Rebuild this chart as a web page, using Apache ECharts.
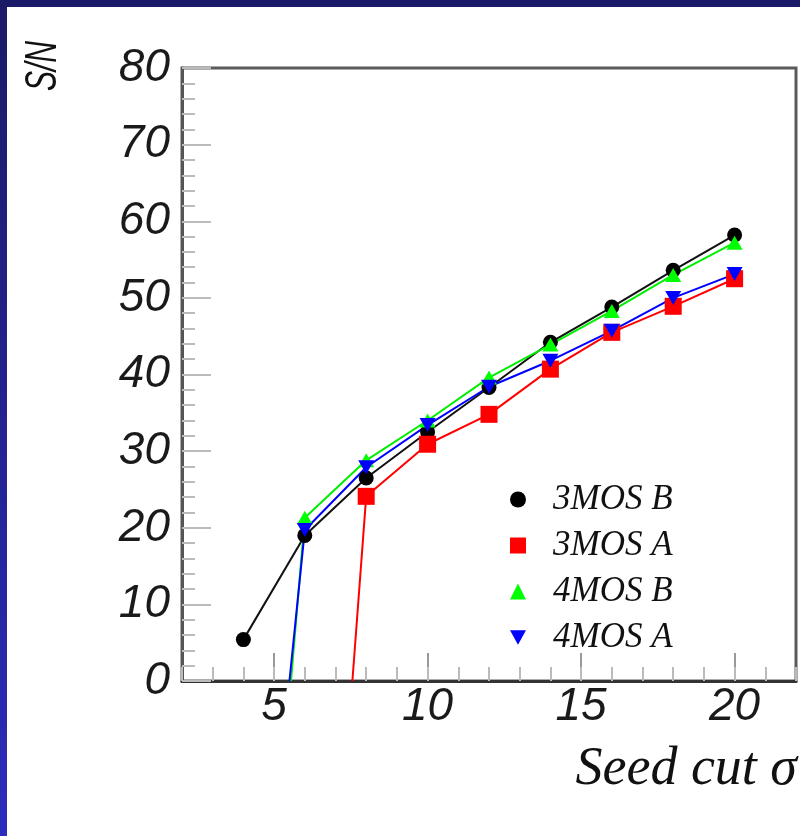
<!DOCTYPE html>
<html>
<head>
<meta charset="utf-8">
<script src="https://cdn.jsdelivr.net/npm/echarts@6/dist/echarts.min.js"></script>
<style>
  html, body { margin: 0; padding: 0; background: #ffffff; }
  #chart { width: 800px; height: 836px; }
</style>
</head>
<body>
<div id="chart"></div>
<script>
// ---- data ----
const seriesNames = ['3MOS B', '3MOS A', '4MOS B', '4MOS A'];
const x3B = [4, 6, 8, 10, 12, 14, 16, 18, 20];
const y3B = [5.4, 19.0, 26.5, 32.5, 38.3, 44.2, 48.8, 53.6, 58.2];
const x3A = [7.55, 8, 10, 12, 14, 16, 18, 20];
const y3A = [0, 24.1, 30.9, 34.8, 40.7, 45.5, 48.9, 52.5];
const x4B = [5.55, 6, 8, 10, 12, 14, 16, 18, 20];
const y4B = [0, 21.3, 28.8, 34.0, 39.6, 43.9, 48.3, 53.0, 57.2];
const x4A = [5.5, 6, 8, 10, 12, 14, 16, 18, 20];
const y4A = [0, 19.7, 27.9, 33.4, 38.4, 41.8, 45.7, 50.0, 53.1];
const xTickLabels = [5, 10, 15, 20];
const yTickLabels = [0, 10, 20, 30, 40, 50, 60, 70, 80];

function pts(xs, ys) {
  return xs.map((x, i) => ys[i] === 0 ? { value: [x, ys[i]], symbol: 'none' } : [x, ys[i]]);
}

const downTri = 'path://M0,0L10,0L5,9Z';
const chart = echarts.init(document.getElementById('chart'));
const italicSans = 'Liberation Sans';
const italicSerif = 'Liberation Serif';

chart.setOption({
  animation: false,
  backgroundColor: '#ffffff',
  grid: {
    left: 182, top: 68, right: 4, bottom: 155,
    show: true, borderColor: '#5a5a5a', borderWidth: 3, backgroundColor: 'transparent'
  },
  xAxis: [
    {
      type: 'value', min: 2, max: 22,
      axisLine: { lineStyle: { color: '#333', width: 3 } },
      splitLine: { show: false },
      axisTick: { inside: true, length: 28, customValues: xTickLabels, lineStyle: { color: '#999', width: 2 } },
      axisLabel: {
        customValues: xTickLabels, margin: 3, color: '#1a1a1a',
        fontFamily: italicSans, fontStyle: 'italic', fontSize: 46, lineHeight: 46
      },
      name: 'Seed cut σ', nameLocation: 'end', nameGap: 1,
      nameTextStyle: {
        fontFamily: italicSerif, fontStyle: 'italic', fontSize: 54, color: '#111',
        align: 'right', verticalAlign: 'top', padding: [62, 0, 0, 0]
      }
    },
    {
      type: 'value', min: 2, max: 22, interval: 1, position: 'bottom',
      axisLine: { show: false },
      splitLine: { show: false },
      axisTick: { inside: true, length: 14, lineStyle: { color: '#bbb', width: 2 } },
      axisLabel: { show: false }
    }
  ],
  yAxis: {
    type: 'value', min: 0, max: 80, interval: 10,
    axisLine: { show: true, lineStyle: { color: '#555', width: 3 } },
    splitLine: { show: false },
    axisTick: { show: true, inside: true, length: 29, lineStyle: { color: '#bbb', width: 2 } },
    minorTick: { show: true, splitNumber: 5, length: 13, lineStyle: { color: '#bbb', width: 2 } },
    axisLabel: {
      margin: 12, color: '#1a1a1a',
      fontFamily: italicSans, fontStyle: 'italic', fontSize: 46
    }
  },
  legend: {
    orient: 'vertical', left: 505, top: 477,
    itemWidth: 16, itemHeight: 16, itemGap: 11,
    textStyle: {
      fontFamily: italicSerif, fontStyle: 'italic', fontSize: 35, lineHeight: 34,
      color: '#111', padding: [0, 0, 0, 22]
    },
    data: [
      { name: seriesNames[0], icon: 'circle' },
      { name: seriesNames[1], icon: 'rect' },
      { name: seriesNames[2], icon: 'triangle' },
      { name: seriesNames[3], icon: downTri }
    ]
  },
  graphic: [
    { type: 'rect', shape: { x: 0, y: 0, width: 800, height: 7 }, style: { fill: '#1a1a6a' }, z: 100 },
    {
      type: 'rect', shape: { x: 0, y: 0, width: 7, height: 836 }, z: 100,
      style: {
        fill: new echarts.graphic.LinearGradient(0, 0, 0, 1, [
          { offset: 0, color: '#1a1a66' }, { offset: 1, color: '#2c2cbc' }
        ])
      }
    },
    {
      type: 'text', x: 43, y: 66, rotation: Math.PI / 2, scaleY: 1.5,
      style: {
        text: 'S/N', fontFamily: italicSans, fontStyle: 'italic', fontSize: 30,
        fill: '#111', align: 'center', verticalAlign: 'middle'
      }
    }
  ],
  series: [
    {
      name: seriesNames[0], type: 'line', data: pts(x3B, y3B),
      symbol: 'circle', symbolSize: 15,
      itemStyle: { color: '#000' }, lineStyle: { color: '#111', width: 2 }
    },
    {
      name: seriesNames[1], type: 'line', data: pts(x3A, y3A),
      symbol: 'rect', symbolSize: 17,
      itemStyle: { color: '#ff0000' }, lineStyle: { color: '#ff0000', width: 2 }
    },
    {
      name: seriesNames[2], type: 'line', data: pts(x4B, y4B),
      symbol: 'triangle', symbolSize: [16, 14],
      itemStyle: { color: '#00ff00' }, lineStyle: { color: '#00ee00', width: 2 }
    },
    {
      name: seriesNames[3], type: 'line', data: pts(x4A, y4A),
      symbol: downTri, symbolSize: [16, 14],
      itemStyle: { color: '#0000ff' }, lineStyle: { color: '#0000ff', width: 2 }
    }
  ]
});
</script>
</body>
</html>
